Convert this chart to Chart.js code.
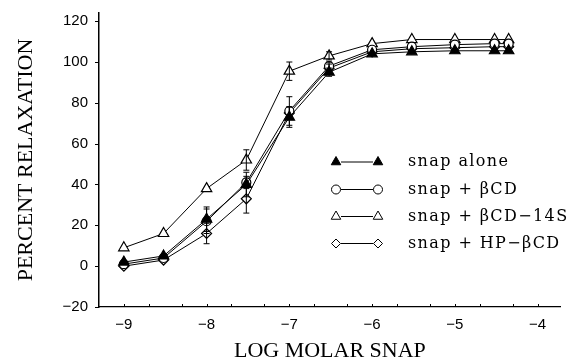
<!DOCTYPE html>
<html>
<head>
<meta charset="utf-8">
<script src="https://cdn.jsdelivr.net/npm/chart.js@4"></script>
<style>
  html, body { margin: 0; padding: 0; background: #fff; }
  #wrap { width: 568px; height: 360px; position: relative; }
</style>
</head>
<body>
<div id="wrap"><canvas id="chart"></canvas></div>
<script>
/* ---------- DATA ---------- */
const logConc = [-9, -8.52, -8, -7.52, -7, -6.52, -6, -5.52, -5, -4.52, -4.35];

const snapAlone  = [2, 5, 23, 40, 73, 95, 104, 105, 105.5, 105.5, 105.5];
const snapBcd    = [1, 4, 22, 41, 76, 98, 106, 107.5, 108.5, 109, 109];
const snapBcd14s = [9, 16, 38, 52, 95.5, 103, 109, 111, 111, 111, 111];
const snapHpBcd  = [0, 3, 16, 33, 75, 97, 105, 106.5, 107, 107.5, 107.5];

const errAlone  = [1, 1, 6, 6, 5, 2, 1, 1, 1, 1, 1];
const errBcd    = [1, 1, 6, 3, 7, 2, 1, 1, 1, 1, 1];
const err14s    = [1, 1, 1, 5, 4.5, 2, 1, 1, 1, 1, 1];
const errHpBcd  = [1, 1, 5, 7, 3, 2, 1, 1, 1, 1, 1];

const seriesLabels = ["snap alone", "snap + \u03B2CD", "snap + \u03B2CD\u221214S", "snap + HP\u2212\u03B2CD"];

const xTickLabels = [-9, -8, -7, -6, -5, -4];
const xMinorTicks = [-8.699, -8.301, -7.699, -7.301, -6.699, -6.301, -5.699, -5.301, -4.699, -4.301];
const yTickLabels = [-20, 0, 20, 40, 60, 80, 100, 120];

/* ---------- HELPERS ---------- */
const minus = v => (v < 0 ? "\u2212" + Math.abs(v) : String(v));
const toPoints = ys => logConc.map((x, i) => ({ x: x, y: ys[i] }));

const tickFont = { family: "'Liberation Sans', Arial, sans-serif", size: 15 };
const titleFont = { family: "'Liberation Serif', 'Times New Roman', serif", size: 22 };

function series(label, ys, errs, style, fill, radius){
  return {
    label: label,
    data: toPoints(ys),
    errs: errs,
    borderColor: "#000",
    borderWidth: 1,
    pointStyle: style,
    pointRadius: radius,
    pointBorderColor: "#000",
    pointBackgroundColor: fill,
    pointBorderWidth: 1.2,
    tension: 0,
    fill: false
  };
}

function noPad(s){
  s.paddingTop = 0; s.paddingBottom = 0;
  s.paddingLeft = 0; s.paddingRight = 0;
}

/* ---------- PLUGIN: error bars, ticks, legend ---------- */
const extras = {
  id: "extras",
  afterDatasetsDraw(chart){
    const ctx = chart.ctx;
    const xs = chart.scales.x, ys = chart.scales.y;
    ctx.save();
    ctx.strokeStyle = "#000";
    ctx.lineWidth = 1;
    chart.data.datasets.forEach(ds=>{
      ds.data.forEach((p, i)=>{
        const e = ds.errs[i];
        if(e < 2) return;
        const px = xs.getPixelForValue(p.x);
        const top = ys.getPixelForValue(p.y + e);
        const bot = ys.getPixelForValue(p.y - e);
        ctx.beginPath();
        ctx.moveTo(px, top); ctx.lineTo(px, bot);
        ctx.moveTo(px - 3, top); ctx.lineTo(px + 3, top);
        ctx.moveTo(px - 3, bot); ctx.lineTo(px + 3, bot);
        ctx.stroke();
      });
    });
    ctx.restore();
  },
  afterDraw(chart){
    const ctx = chart.ctx;
    const xs = chart.scales.x, ys = chart.scales.y;
    const area = chart.chartArea;
    ctx.save();
    ctx.strokeStyle = "#000";
    ctx.lineWidth = 1;
    ctx.beginPath();
    // x ticks point inward (up)
    xTickLabels.concat(xMinorTicks).forEach(v=>{
      const px = Math.round(xs.getPixelForValue(v)) + 0.5;
      ctx.moveTo(px, area.bottom); ctx.lineTo(px, area.bottom - 3);
    });
    // y ticks point outward (left)
    yTickLabels.forEach(v=>{
      const py = Math.round(ys.getPixelForValue(v)) + 0.5;
      ctx.moveTo(area.left, py); ctx.lineTo(area.left - 4, py);
    });
    ctx.stroke();

    // legend: marker — marker   label
    const rowY = [162, 189.5, 216.5, 243.5];
    const m1 = 336, m2 = 378, tx = 408;
    chart.data.datasets.forEach((ds, i)=>{
      const y = rowY[i];
      ctx.beginPath();
      ctx.moveTo(m1 + 5, y); ctx.lineTo(m2 - 5, y);
      ctx.stroke();
      const opts = { pointStyle: ds.pointStyle, radius: ds.pointStyle === "triangle" ? 5.5 : 4.5, rotation: 0, borderWidth: 1 };
      ctx.fillStyle = ds.pointBackgroundColor;
      ctx.strokeStyle = "#000";
      ctx.lineWidth = 1;
      Chart.helpers.drawPoint(ctx, opts, m1, y);
      Chart.helpers.drawPoint(ctx, opts, m2, y);
      ctx.fillStyle = "#000";
      ctx.font = "16px 'DejaVu Serif', serif";
      ctx.textBaseline = "middle";
      ctx.textAlign = "left";
      ctx.letterSpacing = "1.4px";
      ctx.fillText(seriesLabels[i], tx, y);
      ctx.letterSpacing = "0px";
    });
    ctx.restore();
  }
};

/* ---------- CHART ---------- */
new Chart(document.getElementById("chart"), {
  type: "line",
  data: {
    datasets: [
      series(seriesLabels[0], snapAlone, errAlone, "triangle", "#000", 6),
      series(seriesLabels[1], snapBcd, errBcd, "circle", "#fff", 4.5),
      series(seriesLabels[2], snapBcd14s, err14s, "triangle", "#fff", 6),
      series(seriesLabels[3], snapHpBcd, errHpBcd, "rectRot", "#fff", 5)
    ]
  },
  options: {
    responsive: true,
    maintainAspectRatio: false,
    animation: false,
    layout: { padding: { top: 13, right: 2, left: 0, bottom: 0 } },
    plugins: { legend: { display: false }, tooltip: { enabled: false } },
    scales: {
      x: {
        type: "linear",
        min: -9.3,
        max: -3.72,
        afterBuildTicks: s => { s.ticks = xTickLabels.map(v => ({ value: v })); },
        afterFit: s => { s.height = 53; noPad(s); },
        ticks: { callback: v => minus(v), font: tickFont, color: "#000", padding: 9, maxRotation: 0, autoSkip: false },
        grid: { display: false, drawTicks: false },
        border: { display: true, color: "#000", width: 1.2 },
        title: { display: true, text: "LOG MOLAR SNAP", font: titleFont, color: "#000", padding: { top: 0, bottom: -4 } }
      },
      y: {
        type: "linear",
        min: -20,
        max: 124,
        afterBuildTicks: s => { s.ticks = yTickLabels.map(v => ({ value: v })); },
        afterFit: s => { s.width = 99; noPad(s); },
        ticks: { callback: v => minus(v), font: tickFont, color: "#000", padding: 11, autoSkip: false },
        grid: { display: false, drawTicks: false },
        border: { display: true, color: "#000", width: 1.5 },
        title: { display: true, text: "PERCENT RELAXATION", font: titleFont, color: "#000", padding: { top: 13, bottom: 0 } }
      }
    }
  },
  plugins: [extras]
});
</script>
</body>
</html>
